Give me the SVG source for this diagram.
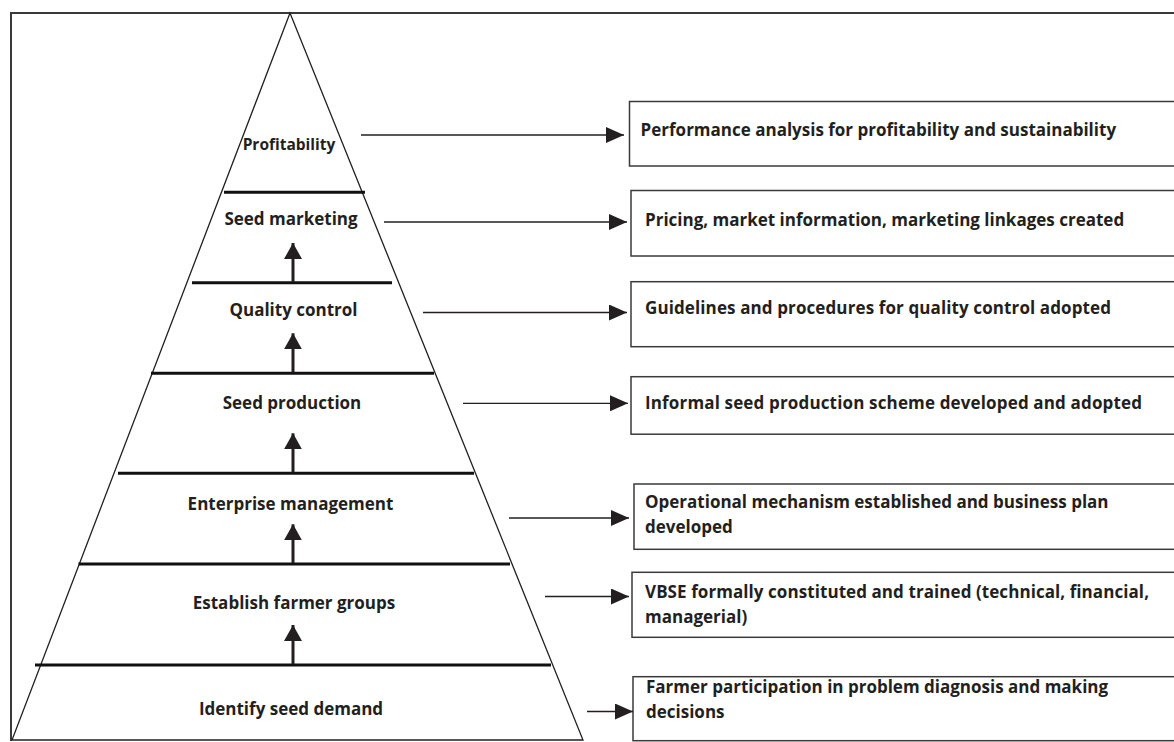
<svg xmlns="http://www.w3.org/2000/svg" width="1174" height="742" viewBox="0 0 1174 742">
<defs>
<style>
.t{font-family:"Open Sans",Lato,"Liberation Sans",sans-serif;font-weight:700;font-size:17px;fill:#231f20}
.m{text-anchor:middle}
.box{fill:#fff;stroke:#3a3a3a;stroke-width:1.5}
.conn{stroke:#231f20;stroke-width:1.3;fill:none}
.up{stroke:#231f20;stroke-width:3;fill:none}
.div{stroke:#111;stroke-width:3;fill:none}
</style>
<marker id="ah" markerUnits="userSpaceOnUse" markerWidth="18" markerHeight="16" refX="18" refY="8" orient="auto">
<path d="M0,0 L18,8 L0,16 Z" fill="#231f20"/>
</marker>
<marker id="au" markerUnits="userSpaceOnUse" markerWidth="16" markerHeight="18" refX="16" refY="9" orient="auto">
<path d="M0,0 L16,9 L0,18 Z" fill="#231f20"/>
</marker>
</defs>
<rect width="1174" height="742" fill="#fff"/>
<g id="frame">
<path d="M11,741 L11,13 L1174,13" fill="none" stroke="#3a3a3a" stroke-width="2"/>
</g>
<g id="pyramid">
<path d="M290,13 L12,740 L583,740 Z" fill="none" stroke="#231f20" stroke-width="1.3"/>
<line class="div" x1="224" y1="192.3" x2="365" y2="192.3"/>
<line class="div" x1="192" y1="282.7" x2="392" y2="282.7"/>
<line class="div" x1="151" y1="373.3" x2="434" y2="373.3"/>
<line class="div" x1="118" y1="473.3" x2="474" y2="473.3"/>
<line class="div" x1="78.5" y1="564" x2="510" y2="564"/>
<line class="div" x1="35" y1="665" x2="551" y2="665"/>
</g>
<g id="level-profitability"><text class="t m" x="289" y="150" style="font-size:15.5px">Profitability</text></g>
<g id="level-seed-marketing"><text class="t m" x="291" y="224.5">Seed marketing</text></g>
<g id="level-quality-control"><text class="t m" x="293.5" y="316">Quality control</text></g>
<g id="level-seed-production"><text class="t m" x="292" y="409">Seed production</text></g>
<g id="level-enterprise-management"><text class="t m" x="290.5" y="510">Enterprise management</text></g>
<g id="level-establish-farmer-groups"><text class="t m" x="294" y="609">Establish farmer groups</text></g>
<g id="level-identify-seed-demand"><text class="t m" x="291" y="715">Identify seed demand</text></g>
<g id="box-1"><rect class="box" x="629.5" y="101.5" width="560" height="64.5"/><text class="t" x="640.6" y="136">Performance analysis for profitability and sustainability</text></g>
<g id="box-2"><rect class="box" x="631" y="190.5" width="560" height="65.5"/><text class="t" x="645" y="225.5">Pricing, market information, marketing linkages created</text></g>
<g id="box-3"><rect class="box" x="631" y="281.7" width="560" height="65"/><text class="t" x="645" y="314.3" textLength="466" lengthAdjust="spacing">Guidelines and procedures for quality control adopted</text></g>
<g id="box-4"><rect class="box" x="631" y="376.7" width="560" height="57.5"/><text class="t" x="645" y="409" textLength="497" lengthAdjust="spacing">Informal seed production scheme developed and adopted</text></g>
<g id="box-5"><rect class="box" x="634" y="484" width="560" height="65.3"/><text class="t" x="645" y="508.3">Operational mechanism established and business plan</text><text class="t" x="645" y="533.3">developed</text></g>
<g id="box-6"><rect class="box" x="632" y="572.3" width="560" height="65"/><text class="t" x="645" y="598.3" textLength="504" lengthAdjust="spacing">VBSE formally constituted and trained (technical, financial,</text><text class="t" x="645" y="623.3">managerial)</text></g>
<g id="box-7"><rect class="box" x="633" y="676.7" width="560" height="64"/><text class="t" x="646" y="693.3">Farmer participation in problem diagnosis and making</text><text class="t" x="646" y="718.3">decisions</text></g>
<g id="connectors">
<line class="up" x1="293" y1="282" x2="293" y2="243" marker-end="url(#au)"/>
<line class="up" x1="293" y1="372.5" x2="293" y2="333.3" marker-end="url(#au)"/>
<line class="up" x1="293" y1="472.5" x2="293" y2="433.3" marker-end="url(#au)"/>
<line class="up" x1="293" y1="563" x2="293" y2="524.3" marker-end="url(#au)"/>
<line class="up" x1="293" y1="664" x2="293" y2="625" marker-end="url(#au)"/>
<line class="conn" x1="361" y1="135" x2="624" y2="135" marker-end="url(#ah)"/>
<line class="conn" x1="384" y1="222" x2="627" y2="222" marker-end="url(#ah)"/>
<line class="conn" x1="423" y1="312.5" x2="627" y2="312.5" marker-end="url(#ah)"/>
<line class="conn" x1="463" y1="403.3" x2="628" y2="403.3" marker-end="url(#ah)"/>
<line class="conn" x1="509" y1="518" x2="629" y2="518" marker-end="url(#ah)"/>
<line class="conn" x1="545" y1="596.5" x2="629" y2="596.5" marker-end="url(#ah)"/>
<line class="conn" x1="587" y1="711.5" x2="633" y2="711.5" marker-end="url(#ah)"/>
</g>
</svg>
